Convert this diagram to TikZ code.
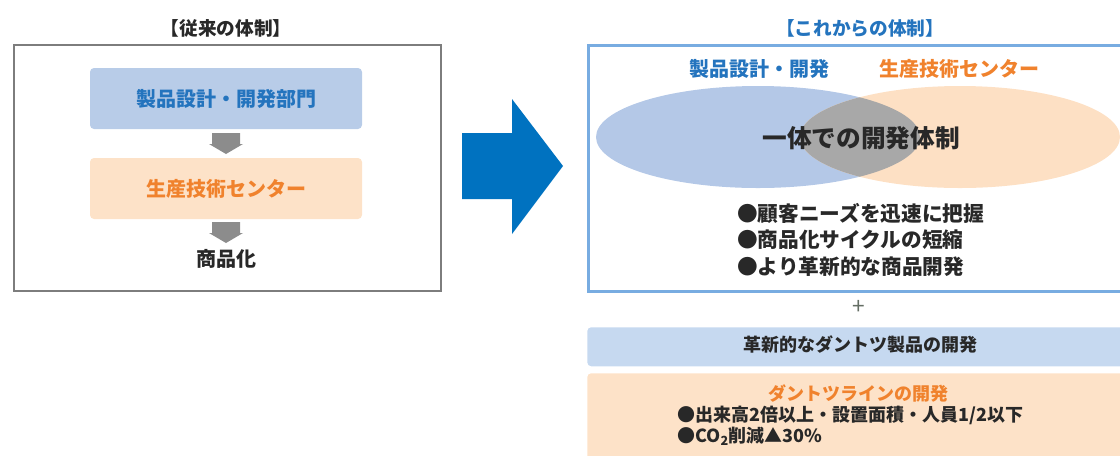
\documentclass[tikz,border=0pt]{standalone}
\usepackage{fontspec}
\setmainfont{Noto Sans CJK JP}
\usetikzlibrary{positioning}
\definecolor{txtblue}{RGB}{36,116,190}
\definecolor{txtorange}{RGB}{240,130,45}
\definecolor{txtdark}{RGB}{40,40,40}
\definecolor{boxblue}{RGB}{184,204,232}
\definecolor{boxorange}{RGB}{253,226,200}
\definecolor{barblue}{RGB}{198,217,240}
\definecolor{ellblue}{RGB}{180,200,231}
\definecolor{ellorange}{RGB}{253,224,196}
\definecolor{overlapgray}{RGB}{168,168,168}
\definecolor{framegray}{RGB}{125,125,125}
\definecolor{frameblue}{RGB}{120,172,225}
\definecolor{arrowgray}{RGB}{140,140,140}
\definecolor{bigblue}{RGB}{0,114,192}
\definecolor{plusgray}{RGB}{100,110,100}
\tikzset{
  lbl/.style={font=\bfseries\fontsize{15pt}{18pt}\selectfont, inner sep=0pt},
  ttl/.style={font=\bfseries\fontsize{14pt}{17pt}\selectfont, inner sep=0pt},
  bul/.style={font=\bfseries\fontsize{15.5pt}{20pt}\selectfont, inner sep=0pt, text=txtdark},
  small/.style={font=\bfseries\fontsize{13.5pt}{16pt}\selectfont, inner sep=0pt},
  roundbox/.style={rounded corners=3pt, inner sep=0pt},
  grayarrow/.style={fill=arrowgray, draw=none},
}
\begin{document}
\begin{tikzpicture}[x=0.75pt,y=-0.75pt]
\useasboundingbox (0,0) rectangle (1120,455);
\clip (0,0) rectangle (1120,455);

% ---------- left: conventional system ----------
\node[ttl, text=txtdark] (ltitle) at (226,28) {【従来の体制】};
\node[draw=framegray, line width=1.5pt, minimum width=320.25pt, minimum height=184.5pt, inner sep=0pt, anchor=north west] (lframe) at (13,44) {};

\node[roundbox, fill=boxblue, minimum width=204pt, minimum height=45.75pt] (ldev) at (226,98.5) {};
\node[lbl, text=txtblue] (ldevt) at (ldev.center) {製品設計・開発部門};

\node[roundbox, fill=boxorange, minimum width=204pt, minimum height=45.75pt] (lprod) at (226,188.5) {};
\node[lbl, text=txtorange] (lprodt) at (lprod.center) {生産技術センター};

\node[lbl, text=txtdark] (lcomm) at (226,259) {商品化};

\coordinate (a1) at (226,133);
\coordinate (a2) at (226,222);
\foreach \c in {a1,a2}{
  \fill[grayarrow] ([xshift=-10.5pt]\c) -- ([xshift=10.5pt]\c) -- ([xshift=10.5pt,yshift=-8.25pt]\c) -- ([xshift=12.75pt,yshift=-8.25pt]\c) -- ([yshift=-15.75pt]\c) -- ([xshift=-12.75pt,yshift=-8.25pt]\c) -- ([xshift=-10.5pt,yshift=-8.25pt]\c) -- cycle;
}

% ---------- big blue arrow ----------
\coordinate (bigtip) at (563,166);
\fill[bigblue] (462,133) -- (512,133) -- (512,99) -- (bigtip) -- (512,234) -- (512,199) -- (462,199) -- cycle;

% ---------- right: new system ----------
\node[ttl, text=txtblue] (rtitle) at (860,28) {【これからの体制】};

\coordinate (bc) at (758,137);
\coordinate (oc) at (960,137);
\fill[ellblue] (bc) ellipse [x radius=162, y radius=51];
\fill[ellorange] (oc) ellipse [x radius=160, y radius=51];
\begin{scope}
  \clip (bc) ellipse [x radius=162, y radius=51];
  \fill[overlapgray] (oc) ellipse [x radius=160, y radius=51];
\end{scope}

\node[draw=frameblue, line width=2pt, minimum width=405pt, minimum height=184.5pt, inner sep=0pt, anchor=north west] (rframe) at (587,44) {};

\node[lbl, text=txtblue] (rdev) at (759,69) {製品設計・開発};
\node[lbl, text=txtorange] (rprod) at (959,69) {生産技術センター};
\node[font=\bfseries\fontsize{18.5pt}{22pt}\selectfont, inner sep=0pt, text=txtdark] (unity) at (861,138) {一体での開発体制};

\node[bul, anchor=west] (b1) at (737,213) {●顧客ニーズを迅速に把握};
\node[bul, anchor=west] (b2) at (737,240) {●商品化サイクルの短縮};
\node[bul, anchor=west] (b3) at (737,267) {●より革新的な商品開発};

\node[font=\fontsize{17pt}{18pt}\selectfont, inner sep=0pt, text=plusgray] (plus) at (859,307) {+};

\node[roundbox, fill=barblue, minimum width=405pt, minimum height=29.25pt, anchor=north west] (bar) at (587,327) {};
\node[small, text=txtdark] (bart) at (860,345) {革新的なダントツ製品の開発};

\node[roundbox, fill=boxorange, minimum width=405pt, minimum height=70pt, anchor=north west] (obox) at (587,373) {};
\node[small, text=txtorange] (otitle) at (858,394) {ダントツラインの開発};
\node[small, text=txtdark, anchor=west] (ob1) at (677,415) {●出来高2倍以上・設置面積・人員1/2以下};
\node[small, text=txtdark, anchor=west] (ob2) at (677,436) {●CO\textsubscript{2}削減▲30\%};
\end{tikzpicture}
\end{document}
